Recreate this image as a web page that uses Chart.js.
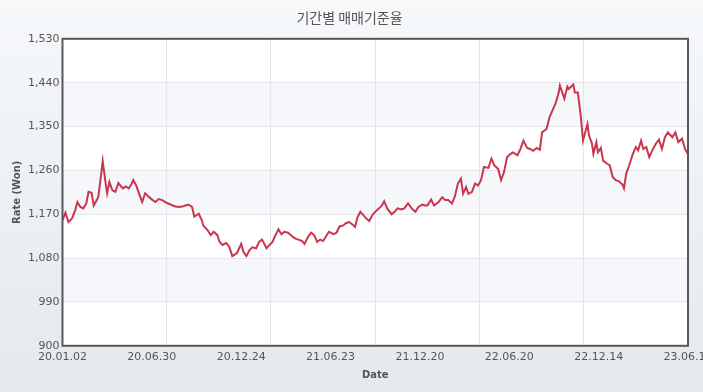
<!DOCTYPE html>
<html lang="ko">
<head>
<meta charset="utf-8">
<title>기간별 매매기준율</title>
<script src="https://cdn.jsdelivr.net/npm/chart.js@4/dist/chart.umd.min.js"></script>
<style>
    html, body { margin: 0; padding: 0; }
    body { width: 703px; height: 392px; overflow: hidden; background: linear-gradient(to bottom, #f6f8fa, #e4e9ee); }
    #wrap { position: relative; width: 703px; height: 392px; }
</style>
</head>
<body>
<div id="wrap"><canvas id="rateChart"></canvas></div>
<script>
// x축 라벨 (120 거래일 간격)
const xTickLabels = ['20.01.02', '20.06.30', '20.12.24', '21.06.23', '21.12.20', '22.06.20', '22.12.14', '23.06.12'];

// 거래일 순번 (20.01.02 = 0)
const tradingDay = [
    0, 4, 8, 13, 17, 20, 24, 28, 32, 35, 39, 42, 46, 48, 51, 54, 55, 58, 60, 63,
    67, 71, 75, 81, 85, 89, 93, 95, 99, 102, 107, 111, 115, 121, 125, 129, 134, 138, 142, 148,
    152, 156, 161, 165, 169, 174, 177, 183, 187, 189, 195, 199, 203, 208, 211, 215, 220, 224, 228, 234,
    236, 240, 243, 247, 251, 255, 260, 264, 268, 274, 278, 282, 286, 290, 294, 298, 303, 309, 313, 317,
    322, 325, 330, 334, 338, 342, 346, 350, 356, 358, 364, 368, 372, 377, 381, 385, 391, 393, 396, 400,
    404, 408, 412, 416, 420, 425, 429, 432, 436, 442, 446, 450, 455, 459, 464, 470, 474, 478, 483, 487,
    490, 495, 499, 505, 510, 514, 518, 523, 527, 531, 535, 538, 542, 545, 550, 554, 558, 562, 566, 572,
    576, 580, 585, 589, 593, 597, 601, 605, 611, 615, 619, 624, 628, 632, 637, 641, 644, 650, 654, 658,
    662, 666, 668, 674, 678, 680, 686, 688, 692, 696, 699, 705, 707, 711, 713, 717, 719, 723, 726, 731,
    735, 739, 743, 747, 752, 754, 757, 761, 766, 770, 773, 777, 780, 784, 788, 793, 797, 801, 805, 809,
    813, 819, 823, 827, 832, 836, 840
];

// 매매기준율 (원)
const rate = [
    1158, 1173, 1154, 1162, 1178, 1195, 1185, 1182, 1192, 1216, 1214, 1188, 1199, 1205, 1240, 1279, 1267, 1233, 1213, 1236,
    1219, 1216, 1234, 1223, 1227, 1223, 1233, 1240, 1229, 1216, 1195, 1213, 1207, 1199, 1195, 1201, 1199, 1195, 1192, 1188,
    1186, 1185, 1186, 1188, 1190, 1185, 1165, 1171, 1158, 1147, 1137, 1127, 1134, 1127, 1113, 1107, 1111, 1103, 1084, 1090,
    1096, 1109, 1093, 1084, 1096, 1102, 1100, 1113, 1118, 1100, 1107, 1113, 1127, 1139, 1129, 1134, 1132, 1124, 1120, 1118,
    1115, 1109, 1124, 1132, 1127, 1113, 1118, 1115, 1130, 1134, 1129, 1132, 1145, 1147, 1152, 1154, 1147, 1144, 1163, 1175,
    1168, 1161, 1156, 1168, 1175, 1182, 1188, 1197, 1182, 1170, 1175, 1182, 1180, 1182, 1192, 1180, 1175, 1185, 1190, 1188,
    1188, 1200, 1188, 1195, 1205, 1199, 1199, 1192, 1207, 1233, 1243, 1212, 1226, 1212, 1216, 1233, 1229, 1240, 1267, 1265,
    1284, 1270, 1263, 1240, 1257, 1287, 1293, 1297, 1291, 1304, 1321, 1306, 1304, 1300, 1306, 1302, 1338, 1345, 1369, 1383,
    1397, 1417, 1434, 1407, 1432, 1427, 1436, 1420, 1420, 1372, 1321, 1355, 1332, 1315, 1294, 1318, 1297, 1306, 1280, 1274,
    1270, 1246, 1240, 1238, 1231, 1223, 1253, 1270, 1294, 1308, 1301, 1321, 1304, 1308, 1287, 1304, 1315, 1323, 1304, 1328,
    1338, 1328, 1338, 1318, 1325, 1304, 1293
];

const textColor = '#555555';
const gridColor = '#e3e7ec';

// 플롯 배경 줄무늬 + 테두리
const plotFrame = {
    id: 'plotFrame',
    beforeDraw(chart) {
        const { ctx, chartArea: a, scales: { y } } = chart;
        ctx.save();
        ctx.fillStyle = '#ffffff';
        ctx.fillRect(a.left, a.top, a.width, a.height);
        ctx.fillStyle = '#f5f7fa';
        for (let k = 1; k < y.ticks.length - 1; k += 2) {
            const y0 = y.getPixelForValue(y.ticks[k].value);
            const y1 = y.getPixelForValue(y.ticks[k + 1].value);
            ctx.fillRect(a.left, y1, a.width, y0 - y1);
        }
        ctx.restore();
    },
    afterDraw(chart) {
        const { ctx, chartArea: a } = chart;
        ctx.save();
        ctx.strokeStyle = '#585858';
        ctx.lineWidth = 2;
        ctx.strokeRect(a.left, a.top, a.width, a.height);
        ctx.restore();
    }
};

new Chart(document.getElementById('rateChart'), {
    type: 'line',
    data: {
        datasets: [{
            label: '매매기준율',
            data: tradingDay.map((d, i) => ({ x: d, y: rate[i] })),
            borderColor: '#c9374e',
            borderWidth: 2,
            pointRadius: 0,
            tension: 0,
            fill: false
        }]
    },
    options: {
        responsive: true,
        maintainAspectRatio: false,
        animation: false,
        layout: { padding: { left: 11, right: 15, top: 4, bottom: 11 } },
        scales: {
            x: {
                type: 'linear',
                min: 0,
                max: 840,
                grid: { display: false, drawTicks: false },
                border: { display: false },
                ticks: {
                    stepSize: 120,
                    autoSkip: false,
                    maxRotation: 0,
                    color: textColor,
                    font: { family: 'DejaVu Sans', size: 11 },
                    padding: 5,
                    callback: v => xTickLabels[Math.round(v / 120)]
                },
                title: {
                    display: true,
                    text: 'Date',
                    color: textColor,
                    font: { family: 'DejaVu Sans', size: 10, weight: 'bold' },
                    padding: { top: 0, bottom: 0 }
                },
                afterFit: s => { s.paddingLeft = 0; s.paddingRight = 0; }
            },
            xGrid: {
                type: 'linear',
                position: 'top',
                min: 0,
                max: 840,
                ticks: { display: false, stepSize: 140 },
                grid: { color: gridColor, drawTicks: false },
                border: { display: false }
            },
            y: {
                min: 900,
                max: 1530,
                grid: { color: gridColor, drawTicks: false },
                border: { display: false },
                ticks: {
                    stepSize: 90,
                    color: textColor,
                    font: { family: 'DejaVu Sans', size: 11 },
                    padding: 3,
                    callback: v => v.toLocaleString('en-US')
                },
                title: {
                    display: true,
                    text: 'Rate (Won)',
                    color: textColor,
                    font: { family: 'DejaVu Sans', size: 10, weight: 'bold' },
                    padding: { top: 0, bottom: 2 }
                }
            }
        },
        plugins: {
            legend: { display: false },
            tooltip: { enabled: false },
            title: {
                display: true,
                text: '기간별 매매기준율',
                color: textColor,
                font: { family: 'Noto Sans CJK KR', size: 14, weight: 'normal' },
                padding: { top: 5, bottom: 13 }
            }
        }
    },
    plugins: [plotFrame]
});
</script>
</body>
</html>
